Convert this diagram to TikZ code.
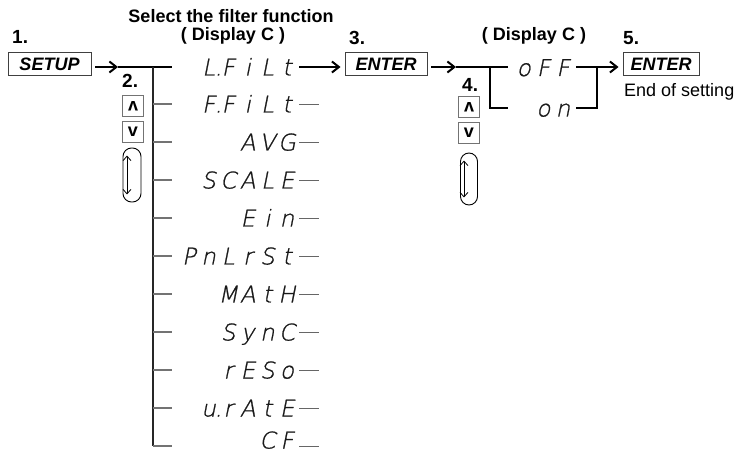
\documentclass[tikz,border=0pt]{standalone}
\usepackage{fontspec}
\setmainfont{Liberation Sans}
\IfFontExistsTF{DejaVu Sans ExtraLight}
 {\newfontfamily\segfont[FakeSlant=0.2,FakeBold=1]{DejaVu Sans ExtraLight}}
 {\newfontfamily\segfont[FakeSlant=0.2]{DejaVu Sans}}
\usetikzlibrary{arrows.meta}
\makeatletter
\def\sg@dot{.}
\newcommand\segtext[1]{\@tfor\sg@c:=#1\do{\ifx\sg@c\sg@dot\makebox[0pt][c]{.}\else\makebox[19.6pt][c]{\sg@c}\fi}}
\makeatother
\begin{document}
\begin{tikzpicture}[x=1pt,y=-1pt,
  keybox/.style={draw=black!75, line width=0.9pt, fill=white, inner sep=0pt,
    minimum height=23pt, font=\bfseries\itshape\fontsize{18}{20}\selectfont},
  heading/.style={font=\bfseries\fontsize{18}{20}\selectfont, inner sep=0pt, anchor=base},
  num/.style={font=\bfseries\fontsize{19}{20}\selectfont, inner sep=0pt, anchor=base west},
  plain/.style={font=\fontsize{18}{20}\selectfont, inner sep=0pt, anchor=base west},
  seg/.style={font=\segfont\fontsize{23}{24}\selectfont, text=black!90, inner sep=0pt, anchor=base east},
  thickln/.style={line width=2pt, line join=miter},
  arr/.style={line width=2pt, -{Straight Barb[length=7pt,width=11pt]}},
  branch/.style={draw=black!55, line width=1.1pt},
  tail/.style={draw=black!60, line width=0.9pt},
  treeln/.style={draw=black!85, line width=1.2pt},
  smallkey/.style={draw=black!55, line width=0.8pt, minimum size=21pt, inner sep=0pt,
    font=\bfseries\fontsize{18}{18}\selectfont},
  capsule/.style={draw=black, line width=0.9pt, rounded corners=8.5pt, inner sep=0pt},
  inarr/.style={line width=0.8pt, {Straight Barb[length=4.5pt,width=8pt]}-{Straight Barb[length=4.5pt,width=8pt]}}
]
\useasboundingbox (0,0) rectangle (739,454);

% headings and step numbers
\node[heading] (sel) at (231,23) {Select the filter function};
\node[heading] (dc1) at (233,41) {( Display C )};
\node[heading] (dc2) at (534,41) {( Display C )};
\node[num] (n1) at (12,44) {1.};
\node[num] (n2) at (122,88) {2.};
\node[num] (n3) at (349,45) {3.};
\node[num] (n4) at (462,92) {4.};
\node[num] (n5) at (623,45) {5.};
\node[plain] (eos) at (624,97) {End of setting};

% keys
\node[keybox, minimum width=83pt] (setup) at (49.5,64) {SETUP};
\node[keybox, minimum width=82pt] (ent1) at (386,64) {ENTER};
\node[keybox, minimum width=76pt] (ent2) at (661,64) {ENTER};

% step 2 keys
\node[smallkey, rotate=180] (up2) at (133,106) {v};
\node[smallkey] (dn2) at (133,132) {v};
\node[capsule, minimum width=18pt, minimum height=54pt] (cap2) at (132,175) {};
\draw[inarr] ([xshift=-5pt,yshift=-8pt]cap2.north) -- ([xshift=-5pt,yshift=8pt]cap2.south);

% step 4 keys
\node[smallkey, rotate=180] (up4) at (469,107) {v};
\node[smallkey] (dn4) at (469,133) {v};
\node[capsule, minimum width=17pt, minimum height=52pt] (cap4) at (469,179) {};
\draw[inarr] ([xshift=-5pt,yshift=-8pt]cap4.north) -- ([xshift=-5pt,yshift=8pt]cap4.south);

% SETUP -> tree
\coordinate (h1) at (118,67);
\coordinate (tt) at (153,67);
\coordinate (tb) at (153,446);
\coordinate (b1) at (172,67);
\draw[arr] (setup.east |- h1) ++(4,0) -- (h1);
\draw[thickln] (h1) -- (b1);
\draw[treeln] (tt) -- (tb);

% menu items
\node[seg] (l1) at (297,75.5) {\segtext{L.FiLt}};
\foreach \i/\y/\t in {2/104/F.FiLt, 3/142/AVG, 4/180/SCALE, 5/218/Ein, 6/256/PnLrSt,
                     7/294/MAtH, 8/332/SynC, 9/370/rESo, 10/408/u.rAtE}{
  \coordinate (s\i) at (153,\y);
  \coordinate (e\i) at (172,\y);
  \draw[branch] (s\i) -- (e\i);
  \node[seg] (l\i) at (297,{\y+8.5}) {\expandafter\segtext\expandafter{\t}};
  \coordinate (t\i) at (299,\y);
  \coordinate (u\i) at (319,\y);
  \draw[tail] (t\i) -- (u\i);
}
\coordinate (s11) at (153,446);
\coordinate (e11) at (172,446);
\draw[branch] (s11) -- (e11);
\node[seg] (l11) at (297,448.5) {\segtext{CF}};
\coordinate (t11) at (299,446);
\coordinate (u11) at (319,446);
\draw[tail] (t11) -- (u11);

% L.FiLt -> ENTER
\coordinate (a1) at (299,67);
\draw[arr] (a1) -- ([xshift=-4pt]ent1.west |- a1);

% ENTER -> oFF/on
\coordinate (h2) at (456,67);
\coordinate (q1) at (490,67);
\coordinate (q2) at (508,67);
\coordinate (q3) at (490,108);
\coordinate (q4) at (508,108);
\draw[arr] (ent1.east |- h2) ++(4,0) -- (h2);
\draw[thickln] (h2) -- (q2);
\draw[thickln] (q1) -- (q3) -- (q4);

\node[seg] (off) at (573,76) {\segtext{oFF}};
\node[seg] (on) at (573,116.5) {\segtext{on}};

\coordinate (r1) at (576,67);
\coordinate (r2) at (597,67);
\coordinate (r3) at (576,108);
\coordinate (r4) at (597,108);
\draw[thickln] (r1) -- (r2);
\draw[thickln] (r3) -- (r4) -- (r2);
\draw[arr] (r2) -- ([xshift=-4pt]ent2.west |- r2);
\end{tikzpicture}
\end{document}
